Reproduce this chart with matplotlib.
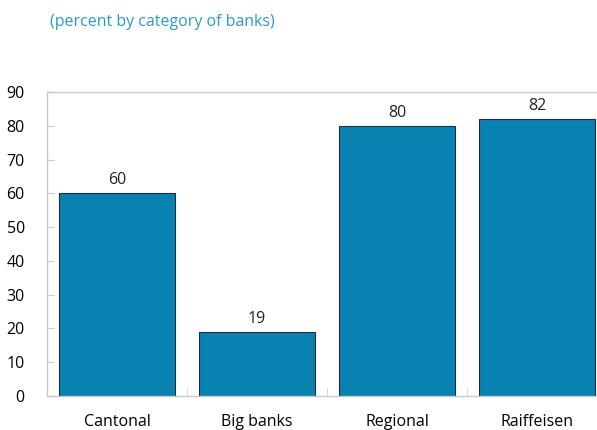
import numpy as np
import matplotlib.pyplot as plt

categories = ['Cantonal', 'Big banks', 'Regional', 'Raiffeisen']
values = [60, 19, 80, 82]
yticks = [0, 10, 20, 30, 40, 50, 60, 70, 80, 90]

plt.rcParams['font.family'] = ['Open Sans', 'DejaVu Sans']

fig = plt.figure(figsize=(5.97, 4.30), dpi=100)
ax = fig.add_axes([0.0787, 0.0791, 0.938, 0.707])

x = np.arange(len(categories))
bars = ax.bar(x, values, width=0.83, color='#0a82b1', edgecolor='#1e2b38', linewidth=0.8)
for xi, v in zip(x, values):
    ax.text(xi, v + 1.5, str(v), ha='center', va='bottom', fontsize=11.5, color='#222222')

ax.set_xlim(-0.5, 3.5)
ax.set_ylim(0, 90)
ax.set_yticks(yticks)
ax.set_xticks(x)
ax.set_xticklabels(categories, fontsize=11.5)
ax.tick_params(axis='x', length=0, pad=13)
ax.set_xticks([0.5, 1.5, 2.5], minor=True)
ax.tick_params(axis='x', which='minor', direction='in', length=6, color='#cccccc')
ax.tick_params(axis='y', direction='in', length=5, color='#cccccc', labelsize=11.5, pad=16)

for s in ['left', 'top', 'bottom', 'right']:
    ax.spines[s].set_color('#c8c8c8')
    ax.spines[s].set_linewidth(1)

fig.text(0.084, 0.95, '(percent by category of banks)', fontsize=11.5, color='#2a9bc6', ha='left', va='center')

fig.savefig('out.png', dpi=100)
